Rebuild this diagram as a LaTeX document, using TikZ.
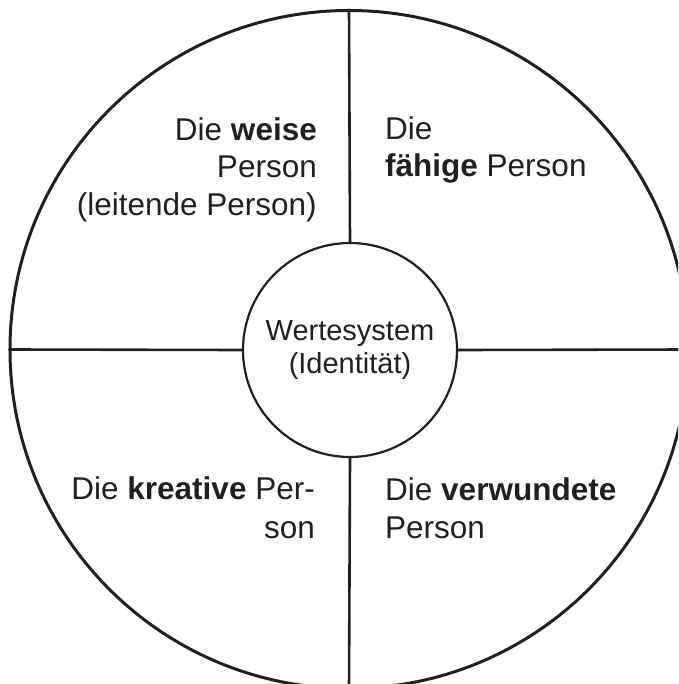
\documentclass[tikz,border=0pt]{standalone}
\usepackage{fontspec}
\setmainfont{Liberation Sans}
\definecolor{ink}{HTML}{231F20}
\begin{document}
\begin{tikzpicture}[x=1pt,y=-1pt,
  big/.style={font=\fontsize{31.5}{37}\selectfont, text=ink, inner sep=0pt},
  lineR/.style={big, anchor=base east},
  lineL/.style={big, anchor=base west},
  ring/.style={draw=ink, circle, inner sep=0pt},
  divider/.style={draw=ink, line width=2.6pt}]
\useasboundingbox (0,0) rectangle (678,684);
\clip (0,0) rectangle (678,684);
\node[ring, line width=3pt, minimum size=678pt] (outer) at (349,349.5) {};
\node[ring, line width=2.2pt, minimum size=214pt, fill=white, align=center,
      font=\fontsize{29}{33}\selectfont, text=ink] (core) at (350,350)
      {Wertesystem\\(Identität)};
\draw[divider] (outer.north) -- (core.north);
\draw[divider] (core.south) -- (outer.south);
\draw[divider] (outer.west) -- (core.west);
\draw[divider] (core.east) -- (outer.east);
% upper left
\node[lineR] (ul1) at (317,141) {Die \textbf{weise}};
\node[lineR] (ul2) at (317,178) {Person};
\node[lineR] (ul3) at (317,216) {(leitende Person)};
% upper right
\node[lineL] (ur1) at (385,140) {Die};
\node[lineL] (ur2) at (385,177) {\textbf{fähige} Person};
% lower left
\node[lineR] (ll1) at (315,499) {Die \textbf{kreative} Per-};
\node[lineR] (ll2) at (315,538) {son};
% lower right
\node[lineL] (lr1) at (385,500) {Die \textbf{verwundete}};
\node[lineL] (lr2) at (385,538) {Person};
\end{tikzpicture}
\end{document}
